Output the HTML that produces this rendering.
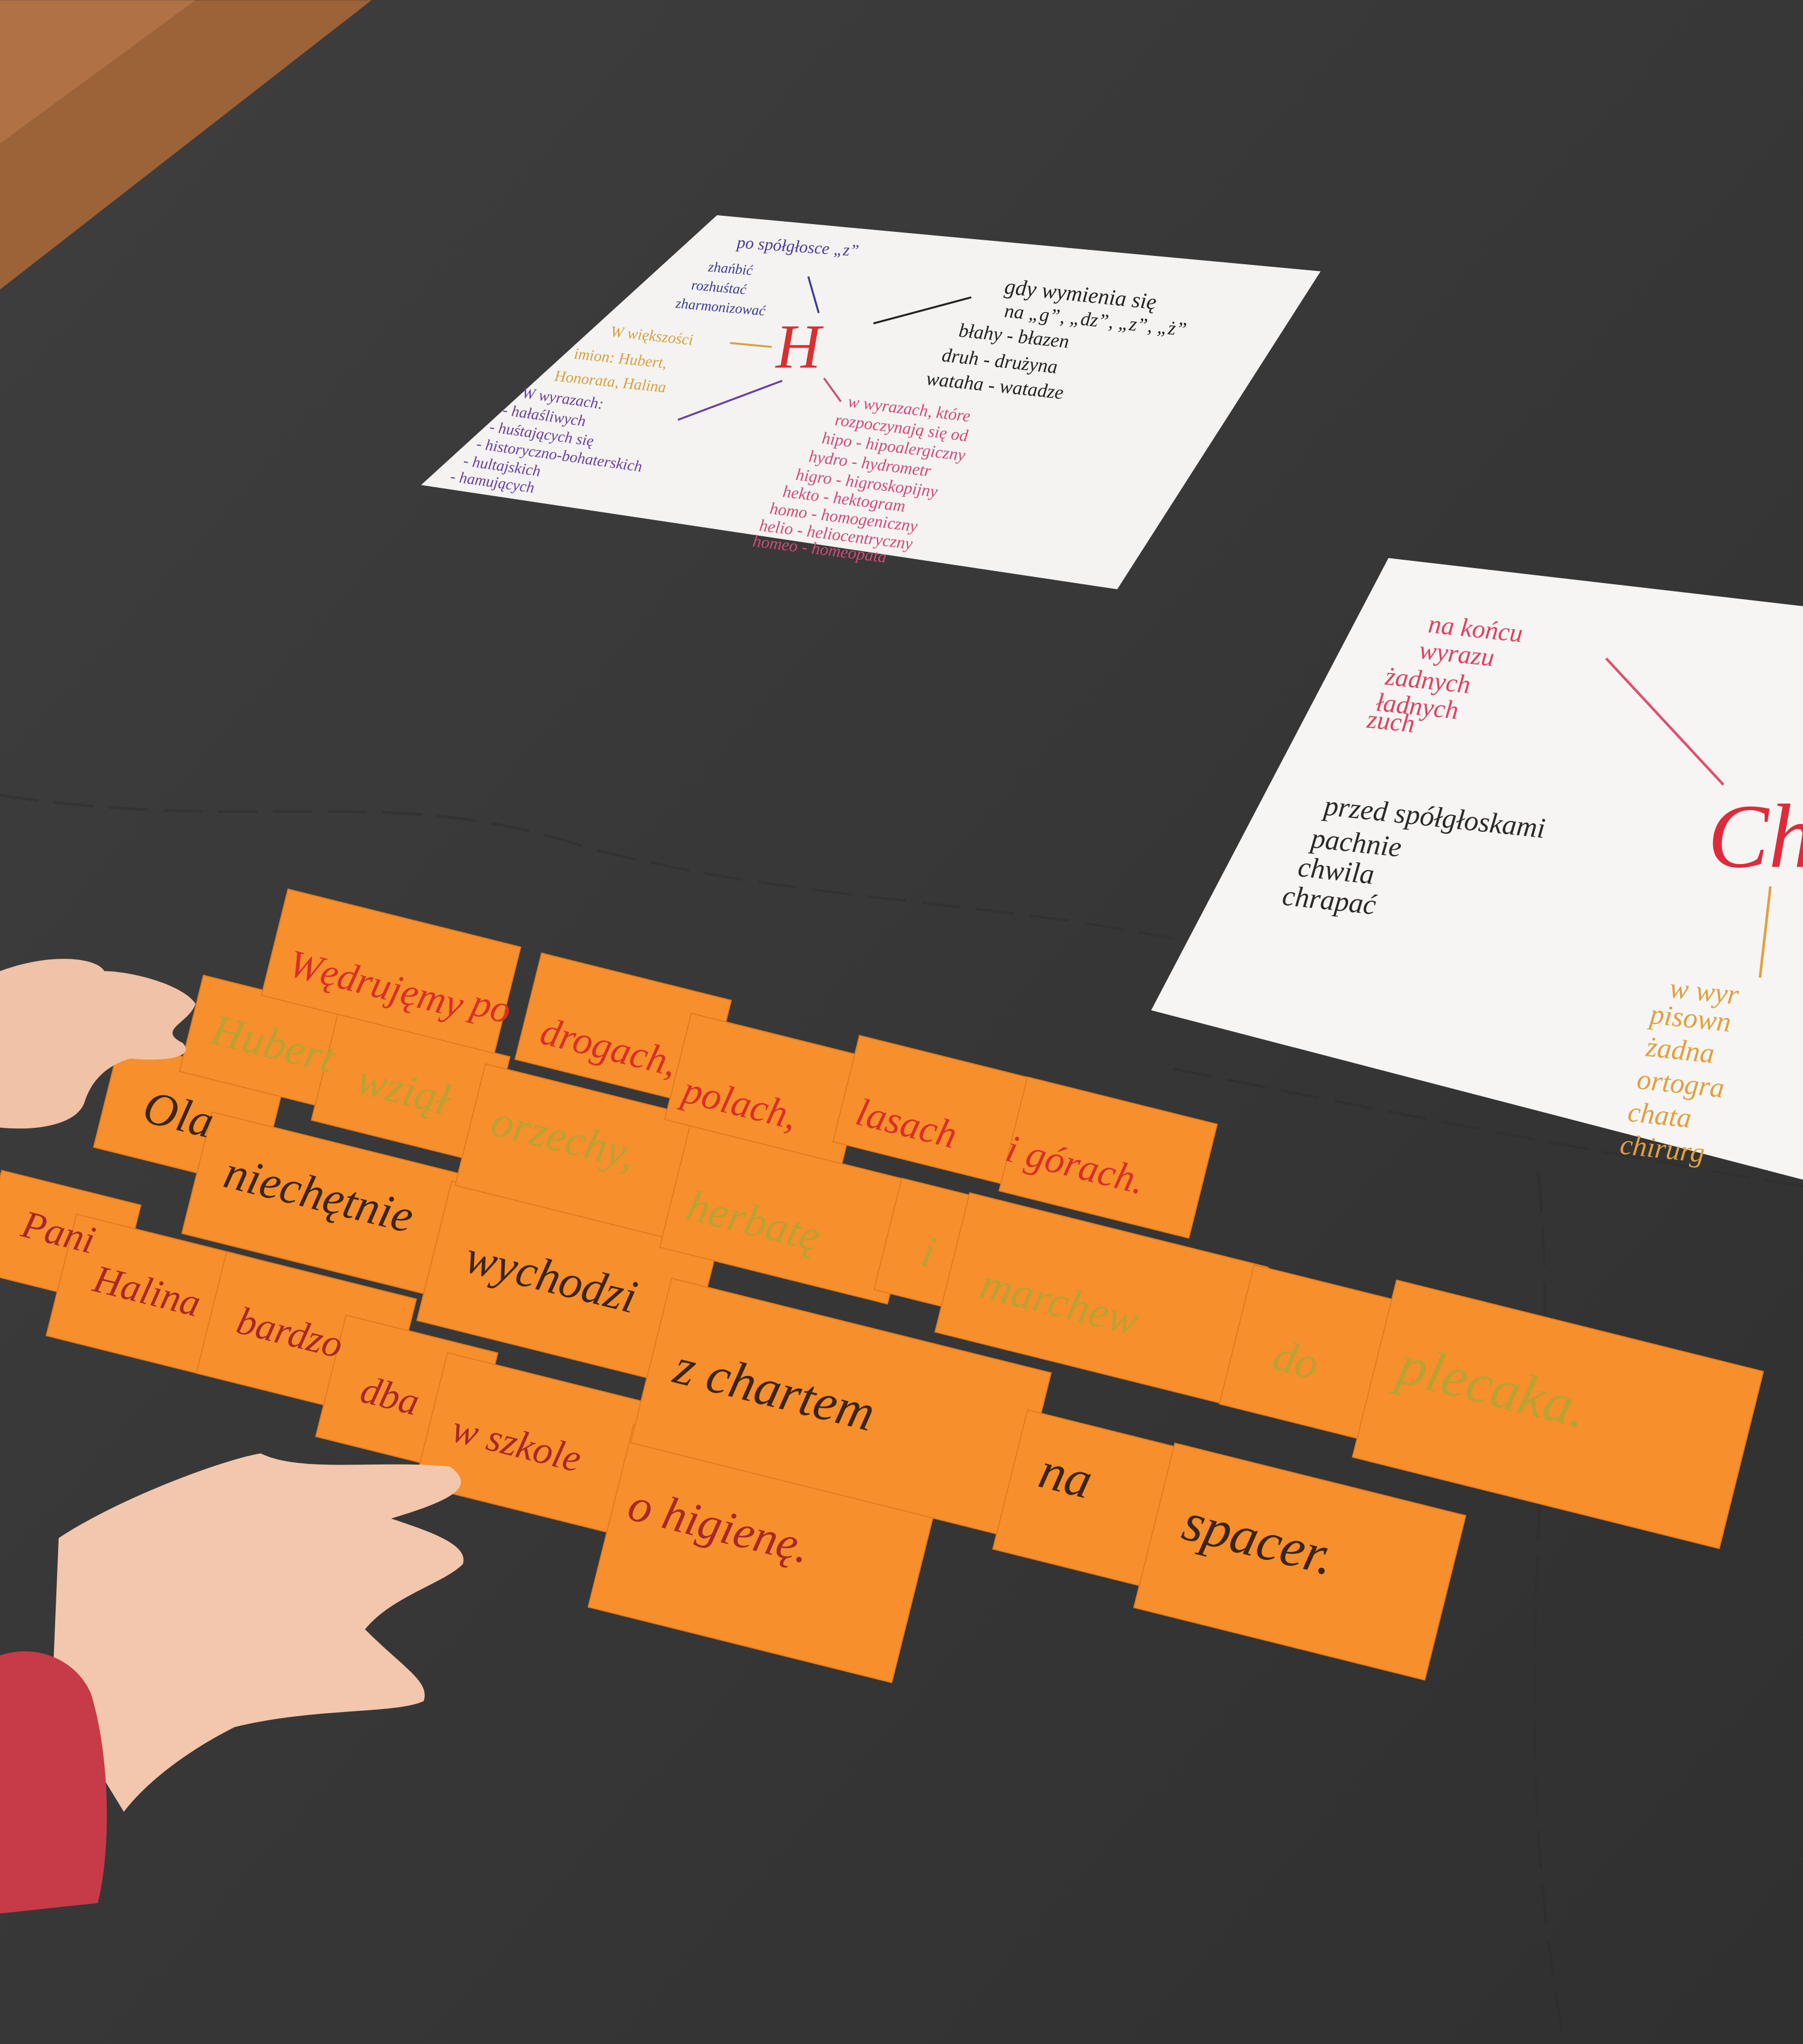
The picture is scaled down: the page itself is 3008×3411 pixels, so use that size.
<!DOCTYPE html>
<html><head><meta charset="utf-8"><style>
html,body{margin:0;padding:0;background:#3b3b3b;}
svg{display:block}
text{font-family:"Liberation Serif",serif;font-style:italic;}
</style></head><body>
<svg width="3008" height="3411" viewBox="0 0 1383 1568" xmlns="http://www.w3.org/2000/svg">
<defs>
<linearGradient id="mat" x1="0" y1="0" x2="1" y2="1">
<stop offset="0" stop-color="#3e3e3e"/><stop offset="1" stop-color="#303030"/></linearGradient>
</defs>
<rect width="1383" height="1568" fill="url(#mat)"/>
<polygon points="0,0 285,0 0,222" fill="#9c6238"/>
<polygon points="0,0 150,0 0,110" fill="#b07245"/>
<g stroke="#2c2c2c" stroke-width="2" fill="none" opacity="0.5" stroke-dasharray="30 12">
<path d="M0,610 C200,640 300,600 450,650 C600,690 750,690 900,720"/>
<path d="M1180,900 C1200,1100 1150,1300 1200,1568"/>
<path d="M900,820 C1050,850 1200,880 1383,910"/>
</g>
<!-- Paper 1 -->
<polygon points="550,165 1013,208 857,452 323,372" fill="#f4f3f1"/>
<g font-size="13">
<text x="565" y="190" fill="#4a3a9a" transform="rotate(4 565 190)">po spółgłosce „z”</text>
<text x="543" y="208" fill="#3a3a9a" font-size="11" transform="rotate(5 543 208)">zhańbić</text>
<text x="530" y="222" fill="#3a3a9a" font-size="11" transform="rotate(5 530 222)">rozhuśtać</text>
<text x="518" y="236" fill="#3a3a9a" font-size="11" transform="rotate(5 518 236)">zharmonizować</text>
<text x="595" y="282" fill="#d83030" font-size="48">H</text>
<text x="468" y="258" fill="#d8a040" font-size="12" transform="rotate(6 468 258)">W większości</text>
<text x="440" y="275" fill="#d8a040" font-size="12" transform="rotate(6 440 275)">imion: Hubert,</text>
<text x="425" y="292" fill="#d8a040" font-size="12" transform="rotate(6 425 292)">Honorata, Halina</text>
<text x="770" y="225" fill="#222" font-size="17" transform="rotate(6 770 225)">gdy wymienia się</text>
<text x="770" y="243" fill="#222" font-size="15" transform="rotate(6 770 243)">na „g”, „dz”, „z”, „ż”</text>
<text x="735" y="258" fill="#222" font-size="15" transform="rotate(6 735 258)">błahy - błazen</text>
<text x="722" y="277" fill="#222" font-size="15" transform="rotate(6 722 277)">druh - drużyna</text>
<text x="710" y="295" fill="#222" font-size="15" transform="rotate(6 710 295)">wataha - watadze</text>
<text x="400" y="305" fill="#6a40a0" font-size="12" transform="rotate(8 400 305)">W wyrazach:</text>
<g fill="#6a40a0" font-size="12">
<text x="385" y="318" transform="rotate(8 385 318)">- hałaśliwych</text>
<text x="375" y="331" transform="rotate(8 375 331)">- huśtających się</text>
<text x="365" y="344" transform="rotate(8 365 344)">- historyczno-bohaterskich</text>
<text x="355" y="357" transform="rotate(8 355 357)">- hultajskich</text>
<text x="345" y="369" transform="rotate(8 345 369)">- hamujących</text>
</g>
<g fill="#d04a7a" font-size="13">
<text x="650" y="312" transform="rotate(7 650 312)">w wyrazach, które</text>
<text x="640" y="326" transform="rotate(7 640 326)">rozpoczynają się od</text>
<text x="630" y="340" transform="rotate(7 630 340)">hipo - hipoalergiczny</text>
<text x="620" y="354" transform="rotate(7 620 354)">hydro - hydrometr</text>
<text x="610" y="368" transform="rotate(7 610 368)">higro - higroskopijny</text>
<text x="600" y="381" transform="rotate(7 600 381)">hekto - hektogram</text>
<text x="590" y="394" transform="rotate(7 590 394)">homo - homogeniczny</text>
<text x="582" y="407" transform="rotate(7 582 407)">helio - heliocentryczny</text>
<text x="577" y="419" transform="rotate(7 577 419)">homeo - homeopata</text>
</g>
</g>
<g stroke-width="1.5">
<line x1="670" y1="248" x2="745" y2="228" stroke="#222"/>
<line x1="620" y1="212" x2="628" y2="240" stroke="#3a3a9a"/>
<line x1="520" y1="322" x2="600" y2="292" stroke="#6a40a0"/>
<line x1="632" y1="290" x2="645" y2="308" stroke="#d04a7a"/>
<line x1="560" y1="263" x2="592" y2="266" stroke="#d8a040"/>
</g>
<!-- Paper 2 -->
<polygon points="1065,428 1383,465 1383,905 883,775" fill="#f6f5f3"/>
<g font-size="20">
<g fill="#e04060">
<text x="1095" y="485" transform="rotate(6 1095 485)">na końcu</text>
<text x="1088" y="505" transform="rotate(6 1088 505)">wyrazu</text>
<text x="1062" y="525" transform="rotate(6 1062 525)">żadnych</text>
<text x="1055" y="545" transform="rotate(6 1055 545)">ładnych</text>
<text x="1048" y="558" transform="rotate(6 1048 558)">zuch</text>
</g>
<line x1="1232" y1="505" x2="1322" y2="602" stroke="#e05070" stroke-width="2"/>
<text x="1310" y="665" fill="#e02a3a" font-size="70">Ch</text>
<g fill="#2a2a2a" font-size="22">
<text x="1015" y="625" transform="rotate(6 1015 625)">przed spółgłoskami</text>
<text x="1005" y="650" transform="rotate(6 1005 650)">pachnie</text>
<text x="995" y="672" transform="rotate(6 995 672)">chwila</text>
<text x="983" y="694" transform="rotate(6 983 694)">chrapać</text>
</g>
<line x1="1358" y1="680" x2="1350" y2="750" stroke="#e0a040" stroke-width="2"/>
<g fill="#e0a040" font-size="22">
<text x="1280" y="765" transform="rotate(6 1280 765)">w wyr</text>
<text x="1265" y="785" transform="rotate(6 1265 785)">pisown</text>
<text x="1262" y="810" transform="rotate(6 1262 810)">żadna</text>
<text x="1255" y="835" transform="rotate(6 1255 835)">ortogra</text>
<text x="1248" y="860" transform="rotate(6 1248 860)">chata</text>
<text x="1242" y="885" transform="rotate(6 1242 885)">chirurg</text>
</g>
</g>
<!-- Cards -->
<g>
<g fill="#f78f2c" stroke="#e07a1e" stroke-width="0.8">
<rect x="-55" y="-40" width="110" height="80" transform="translate(45,950) rotate(14)"/>
<rect x="-70" y="-48" width="140" height="96" transform="translate(115,995) rotate(14)"/>
<rect x="-75" y="-48" width="150" height="96" transform="translate(235,1025) rotate(14)"/>
<rect x="-60" y="-48" width="120" height="96" transform="translate(312,1070) rotate(14)"/>
<rect x="-90" y="-52" width="180" height="104" transform="translate(418,1110) rotate(14)"/>
<rect x="-120" y="-72" width="240" height="144" transform="translate(585,1192) rotate(14)"/>
<rect x="-65" y="-42" width="130" height="84" transform="translate(145,855) rotate(14)"/>
<rect x="-105" y="-48" width="210" height="96" transform="translate(253,925) rotate(14)"/>
<rect x="-105" y="-55" width="210" height="110" transform="translate(435,985) rotate(14)"/>
<rect x="-150" y="-65" width="300" height="130" transform="translate(645,1080) rotate(14)"/>
<rect x="-62" y="-55" width="124" height="110" transform="translate(835,1150) rotate(14)"/>
<rect x="-115" y="-65" width="230" height="130" transform="translate(997,1198) rotate(14)"/>
<rect x="-62" y="-38" width="124" height="76" transform="translate(207,800) rotate(14)"/>
<rect x="-68" y="-42" width="136" height="84" transform="translate(315,835) rotate(14)"/>
<rect x="-92" y="-48" width="184" height="96" transform="translate(450,885) rotate(14)"/>
<rect x="-90" y="-48" width="180" height="96" transform="translate(605,932) rotate(14)"/>
<rect x="-35" y="-44" width="70" height="88" transform="translate(715,955) rotate(14)"/>
<rect x="-118" y="-55" width="236" height="110" transform="translate(845,997) rotate(14)"/>
<rect x="-55" y="-55" width="110" height="110" transform="translate(1002,1037) rotate(14)"/>
<rect x="-145" y="-70" width="290" height="140" transform="translate(1195,1085) rotate(14)"/>
<rect x="-92" y="-42" width="184" height="84" transform="translate(300,745) rotate(14)"/>
<rect x="-75" y="-42" width="150" height="84" transform="translate(478,790) rotate(14)"/>
<rect x="-70" y="-42" width="140" height="84" transform="translate(588,835) rotate(14)"/>
<rect x="-70" y="-42" width="140" height="84" transform="translate(717,852) rotate(14)"/>
<rect x="-75" y="-45" width="150" height="90" transform="translate(850,888) rotate(14)"/>
</g>
<g font-size="30" fill="#d83028">
<text transform="translate(220,748) rotate(14)">Wędrujęmy</text>
<text transform="translate(360,778) rotate(14)">po</text>
<text transform="translate(413,800) rotate(14)">drogach,</text>
<text transform="translate(522,845) rotate(14)">polach,</text>
<text transform="translate(655,862) rotate(14)">lasach</text>
<text transform="translate(770,890) rotate(14)">i górach.</text>
</g>
<g font-size="34" fill="#b8a232">
<text transform="translate(160,800) rotate(14)">Hubert</text>
<text transform="translate(272,838) rotate(14)">wziął</text>
<text transform="translate(375,870) rotate(14)">orzechy,</text>
<text transform="translate(525,935) rotate(14)">herbatę</text>
<text transform="translate(705,970) rotate(14)">i</text>
<text transform="translate(750,995) rotate(14)">marchew</text>
<text transform="translate(975,1050) rotate(14)">do</text>
<text transform="translate(1070,1060) rotate(14)" font-size="44">plecaka.</text>
</g>
<g font-size="36" fill="#3a2618">
<text transform="translate(108,860) rotate(14)">Ola</text>
<text transform="translate(170,910) rotate(14)">niechętnie</text>
<text transform="translate(355,975) rotate(14)">wychodzi</text>
<text transform="translate(515,1060) rotate(14)" font-size="40">z chartem</text>
<text transform="translate(795,1140) rotate(14)" font-size="40">na</text>
<text transform="translate(905,1180) rotate(14)" font-size="42">spacer.</text>
</g>
<g font-size="30" fill="#a82828">
<text transform="translate(15,948) rotate(14)">Pani</text>
<text transform="translate(70,990) rotate(14)">Halina</text>
<text transform="translate(180,1022) rotate(14)">bardzo</text>
<text transform="translate(275,1075) rotate(14)">dba</text>
<text transform="translate(345,1105) rotate(14)">w szkole</text>
<text transform="translate(480,1165) rotate(14)" font-size="36">o higienę.</text>
</g>
</g>
<path d="M0,745 C40,730 75,735 80,745 C100,745 140,755 150,770 C145,785 120,790 140,800 C150,810 130,815 100,812 C80,818 70,830 65,845 C60,862 30,868 0,865 Z" fill="#f0c2a8"/>
<path d="M45,1180 C90,1150 170,1120 200,1115 C230,1130 290,1120 345,1125 C365,1140 350,1150 300,1165 C330,1175 360,1185 355,1200 C340,1215 300,1225 280,1250 C310,1280 330,1290 325,1305 C305,1315 240,1310 180,1325 C140,1345 110,1370 95,1390 L40,1300 Z" fill="#f2c7ad"/>
<path d="M0,1270 C30,1260 60,1275 70,1300 C85,1350 85,1420 75,1460 L0,1468 Z" fill="#c73a48"/>
</svg>
</body></html>
